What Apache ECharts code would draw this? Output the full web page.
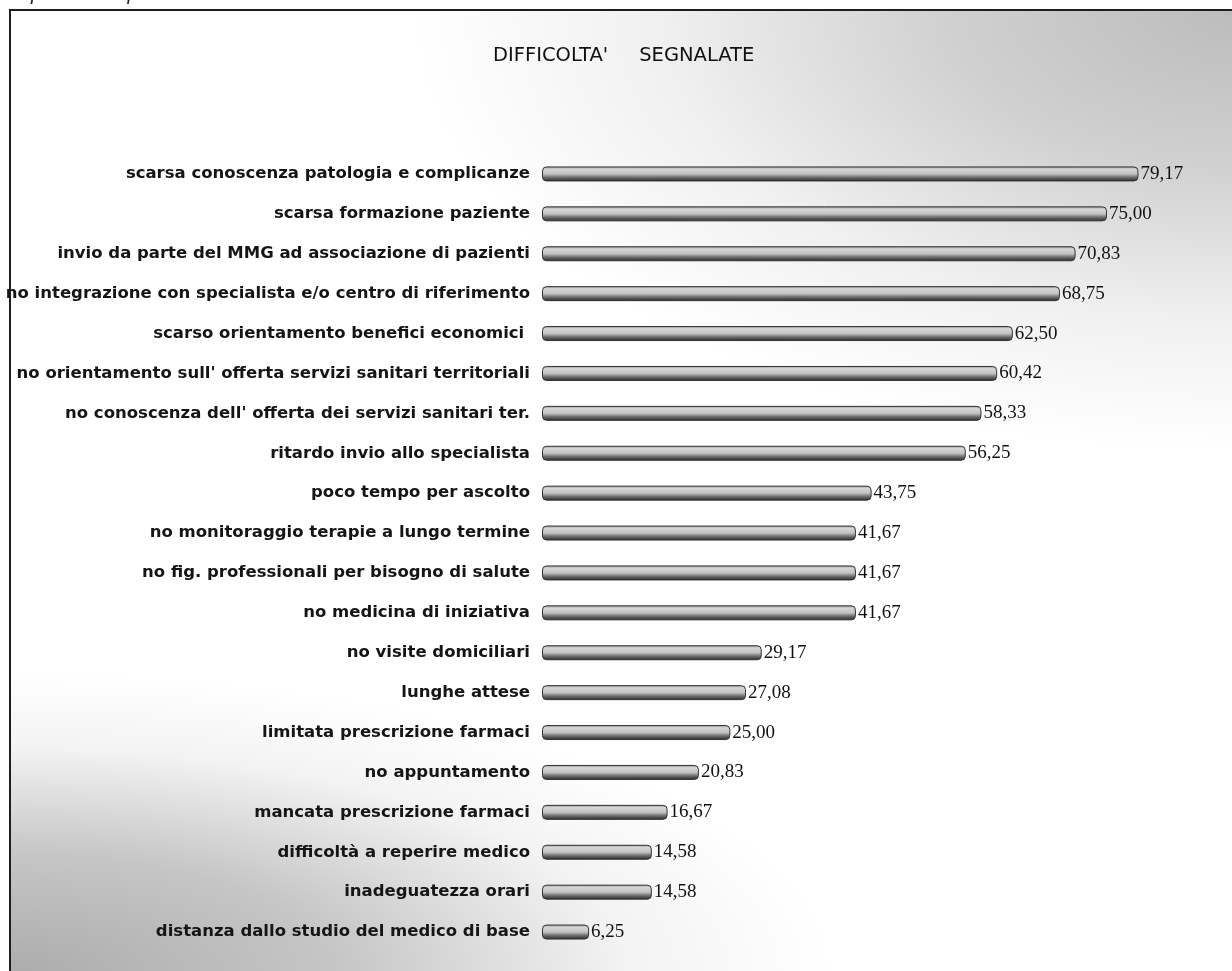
<!DOCTYPE html>
<html>
<head>
<meta charset="utf-8">
<script src="https://cdn.jsdelivr.net/npm/echarts@6/dist/echarts.min.js"></script>
<style>
  html, body { margin: 0; padding: 0; width: 1232px; height: 971px; overflow: hidden; background: #fff; }
  #frame {
    position: absolute; left: 9px; top: 9px; width: 1260px; height: 1000px;
    border-left: 2px solid #1e1e1e; border-top: 2px solid #1e1e1e;
    background:
      radial-gradient(ellipse 820px 440px at 1223px 0px, rgba(188,188,188,1) 0%, rgba(200,200,200,0.85) 35%, rgba(222,222,222,0.45) 70%, rgba(255,255,255,0) 100%),
      radial-gradient(ellipse 820px 300px at 0px 962px, rgba(172,172,172,1) 0%, rgba(188,188,188,0.85) 40%, rgba(220,220,220,0.35) 75%, rgba(255,255,255,0) 100%),
      #ffffff;
  }
  #chart { position: absolute; left: 0; top: 0; width: 1232px; height: 971px; }
</style>
</head>
<body>
<div id="frame"></div>
<div id="chart"></div>
<script>
// Difficoltà segnalate (%), top to bottom
const categories = [
  "scarsa conoscenza patologia e complicanze",
  "scarsa formazione paziente",
  "invio da parte del MMG ad associazione di pazienti",
  "no integrazione con specialista e/o centro di riferimento",
  "scarso orientamento benefici economici ",
  "no orientamento sull' offerta servizi sanitari territoriali",
  "no conoscenza dell' offerta dei servizi sanitari ter.",
  "ritardo invio allo specialista",
  "poco tempo per ascolto",
  "no monitoraggio terapie a lungo termine",
  "no fig. professionali per bisogno di salute",
  "no medicina di iniziativa",
  "no visite domiciliari",
  "lunghe attese",
  "limitata prescrizione farmaci",
  "no appuntamento",
  "mancata prescrizione farmaci",
  "difficoltà a reperire medico",
  "inadeguatezza orari",
  "distanza dallo studio del medico di base"
];
const values = [79.17, 75.00, 70.83, 68.75, 62.50, 60.42, 58.33, 56.25, 43.75, 41.67,
                41.67, 41.67, 29.17, 27.08, 25.00, 20.83, 16.67, 14.58, 14.58, 6.25];

const chartTitle = "DIFFICOLTA'     SEGNALATE";
const noteText = "Risposte multiple";

const chart = echarts.init(document.getElementById('chart'), null, { renderer: 'canvas' });

const barFill = new echarts.graphic.LinearGradient(0, 0, 0, 1, [
  { offset: 0, color: '#8c8c8c' },
  { offset: 0.18, color: '#d6d6d6' },
  { offset: 0.5, color: '#c2c2c2' },
  { offset: 0.72, color: '#707070' },
  { offset: 1, color: '#262626' }
]);

chart.setOption({
  backgroundColor: 'transparent',
  animation: false,
  graphic: [
    {
      type: 'text', left: 2, top: -16, silent: true,
      style: { text: noteText, font: 'italic 20px "Liberation Sans", Arial, sans-serif', fill: '#222' }
    },
    {
      type: 'text', left: 493, top: 46, silent: true,
      style: { text: chartTitle, font: '19.5px "DejaVu Sans", sans-serif', fill: '#111' }
    }
  ],
  grid: { left: 542, right: 12, top: 154, bottom: 19, containLabel: false },
  xAxis: {
    type: 'value', min: 0, max: 90, show: false
  },
  yAxis: {
    type: 'category',
    data: categories,
    inverse: true,
    axisLine: { show: false },
    axisTick: { show: false },
    splitLine: { show: false },
    axisLabel: {
      margin: 12,
      color: '#151515',
      fontFamily: '"DejaVu Sans", sans-serif',
      fontWeight: 'bold',
      fontSize: 16.5
    }
  },
  series: [{
    type: 'bar',
    data: values,
    barWidth: 15,
    itemStyle: {
      color: barFill,
      borderColor: '#333333',
      borderWidth: 1,
      borderRadius: 4
    },
    label: {
      show: true,
      position: 'right',
      distance: 2,
      color: '#111111',
      fontFamily: '"Liberation Serif", "DejaVu Serif", serif',
      fontSize: 19,
      formatter: p => p.value.toFixed(2).replace('.', ',')
    }
  }]
});
</script>
</body>
</html>
